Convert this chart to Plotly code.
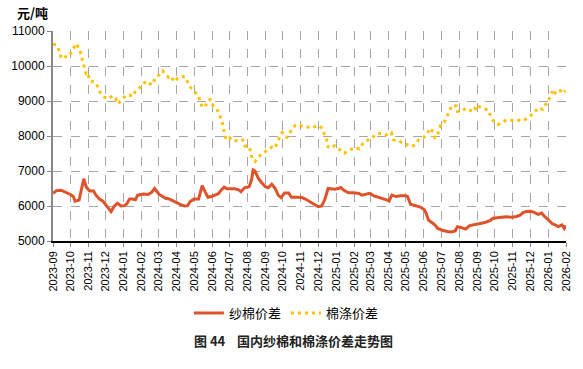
import plotly.graph_objects as go

yarn_dates = [
    "2023-09-01", "2023-09-07", "2023-09-15", "2023-09-24", "2023-10-01", "2023-10-06", "2023-10-09", "2023-10-16",
    "2023-10-20", "2023-10-24", "2023-10-28", "2023-11-03", "2023-11-10", "2023-11-14", "2023-11-20", "2023-11-26",
    "2023-12-01", "2023-12-07", "2023-12-10", "2023-12-15", "2023-12-21", "2023-12-27", "2024-01-02", "2024-01-06",
    "2024-01-11", "2024-01-16", "2024-01-21", "2024-01-25", "2024-02-04", "2024-02-12", "2024-02-18", "2024-02-23",
    "2024-02-27", "2024-03-02", "2024-03-08", "2024-03-13", "2024-03-19", "2024-03-26", "2024-04-03", "2024-04-08",
    "2024-04-15", "2024-04-20", "2024-04-24", "2024-05-01", "2024-05-09", "2024-05-15", "2024-05-20", "2024-05-25",
    "2024-05-31", "2024-06-06", "2024-06-12", "2024-06-17", "2024-06-22", "2024-06-27", "2024-07-04", "2024-07-10",
    "2024-07-17", "2024-07-21", "2024-07-27", "2024-08-04", "2024-08-08", "2024-08-11", "2024-08-14", "2024-08-20",
    "2024-08-25", "2024-09-01", "2024-09-06", "2024-09-12", "2024-09-18", "2024-09-23", "2024-09-28", "2024-10-04",
    "2024-10-11", "2024-10-16", "2024-10-25", "2024-11-03", "2024-11-09", "2024-11-17", "2024-11-25", "2024-12-01",
    "2024-12-07", "2024-12-12", "2024-12-15", "2024-12-18", "2024-12-23", "2024-12-29", "2025-01-05", "2025-01-09",
    "2025-01-13", "2025-01-22", "2025-01-31", "2025-02-09", "2025-02-14", "2025-02-20", "2025-02-28", "2025-03-07",
    "2025-03-16", "2025-03-24", "2025-03-30", "2025-04-02", "2025-04-07", "2025-04-14", "2025-04-22", "2025-05-01",
    "2025-05-04", "2025-05-09", "2025-05-18", "2025-05-26", "2025-06-02", "2025-06-05", "2025-06-09", "2025-06-14",
    "2025-06-20", "2025-06-25", "2025-07-04", "2025-07-12", "2025-07-18", "2025-07-25", "2025-07-29", "2025-08-05",
    "2025-08-12", "2025-08-19", "2025-08-25", "2025-08-31", "2025-09-06", "2025-09-14", "2025-09-23", "2025-09-28",
    "2025-10-04", "2025-10-12", "2025-10-21", "2025-10-30", "2025-11-08", "2025-11-14", "2025-11-19", "2025-11-25",
    "2025-12-02", "2025-12-08", "2025-12-15", "2025-12-21", "2025-12-26", "2026-01-02", "2026-01-08", "2026-01-13",
    "2026-01-19", "2026-01-25", "2026-01-29", "2026-02-01",
]
yarn_spread = [
    6360, 6440, 6450, 6390, 6330, 6270, 6140, 6170,
    6460, 6780, 6550, 6430, 6430, 6310, 6200, 6140,
    6030, 5890, 5840, 5980, 6080, 6000, 6010, 6060,
    6200, 6200, 6180, 6310, 6340, 6330, 6390, 6500,
    6430, 6330, 6270, 6220, 6200, 6140, 6060, 6040,
    6000, 6010, 6120, 6200, 6200, 6580, 6410, 6250,
    6270, 6310, 6350, 6460, 6540, 6490, 6500, 6490,
    6460, 6410, 6520, 6550, 6740, 7030, 7000, 6790,
    6680, 6550, 6520, 6620, 6500, 6310, 6240, 6370,
    6370, 6250, 6250, 6240, 6200, 6120, 6030, 5980,
    6000, 6170, 6330, 6500, 6490, 6480, 6500, 6530,
    6460, 6380, 6380, 6360, 6310, 6340, 6360, 6290,
    6250, 6200, 6170, 6140, 6310, 6270, 6290, 6290,
    6270, 6050, 6010, 5970, 5890, 5790, 5600, 5530,
    5460, 5360, 5300, 5270, 5260, 5290, 5410, 5380,
    5340, 5440, 5460, 5460, 5500, 5530, 5580, 5650,
    5660, 5680, 5690, 5680, 5700, 5740, 5810, 5840,
    5850, 5820, 5760, 5800, 5700, 5600, 5500, 5460,
    5410, 5460, 5360, 5440,
]

poly_dates = [
    "2023-09-01", "2023-09-07", "2023-09-12", "2023-09-15", "2023-09-21", "2023-09-26", "2023-10-01", "2023-10-06",
    "2023-10-11", "2023-10-16", "2023-10-20", "2023-10-22", "2023-10-25", "2023-10-28", "2023-11-01", "2023-11-02",
    "2023-11-09", "2023-11-13", "2023-11-17", "2023-11-21", "2023-11-28", "2023-12-05", "2023-12-12", "2023-12-18",
    "2023-12-21", "2023-12-27", "2024-01-04", "2024-01-11", "2024-01-16", "2024-01-20", "2024-01-25", "2024-02-01",
    "2024-02-09", "2024-02-18", "2024-02-22", "2024-02-27", "2024-03-02", "2024-03-08", "2024-03-13", "2024-03-19",
    "2024-03-23", "2024-03-27", "2024-04-03", "2024-04-11", "2024-04-17", "2024-04-21", "2024-04-25", "2024-05-01",
    "2024-05-08", "2024-05-11", "2024-05-15", "2024-05-20", "2024-05-24", "2024-05-29", "2024-06-03", "2024-06-09",
    "2024-06-13", "2024-06-18", "2024-06-20", "2024-06-22", "2024-06-25", "2024-07-01", "2024-07-07", "2024-07-16",
    "2024-07-24", "2024-07-27", "2024-08-04", "2024-08-07", "2024-08-09", "2024-08-14", "2024-08-20", "2024-08-25",
    "2024-09-02", "2024-09-08", "2024-09-12", "2024-09-17", "2024-09-21", "2024-09-26", "2024-09-30", "2024-10-08",
    "2024-10-12", "2024-10-16", "2024-10-23", "2024-10-30", "2024-11-07", "2024-11-14", "2024-11-21", "2024-12-01",
    "2024-12-08", "2024-12-12", "2024-12-16", "2024-12-18", "2024-12-23", "2024-12-29", "2025-01-06", "2025-01-15",
    "2025-01-23", "2025-02-04", "2025-02-10", "2025-02-14", "2025-02-20", "2025-02-28", "2025-03-05", "2025-03-13",
    "2025-03-20", "2025-03-28", "2025-04-06", "2025-04-09", "2025-04-14", "2025-04-19", "2025-04-28", "2025-05-05",
    "2025-05-12", "2025-05-18", "2025-05-23", "2025-05-31", "2025-06-07", "2025-06-11", "2025-06-17", "2025-06-20",
    "2025-06-23", "2025-06-27", "2025-06-30", "2025-07-06", "2025-07-11", "2025-07-15", "2025-07-19", "2025-07-27",
    "2025-07-29", "2025-08-06", "2025-08-12", "2025-08-19", "2025-08-25", "2025-08-28", "2025-09-02", "2025-09-04",
    "2025-09-12", "2025-09-20", "2025-09-23", "2025-09-28", "2025-10-07", "2025-10-14", "2025-10-21", "2025-10-30",
    "2025-11-08", "2025-11-16", "2025-11-24", "2025-12-01", "2025-12-09", "2025-12-16", "2025-12-23", "2025-12-26",
    "2026-01-01", "2026-01-05", "2026-01-08", "2026-01-11", "2026-01-16", "2026-01-22", "2026-01-26", "2026-01-31",
]
poly_spread = [
    10620, 10600, 10430, 10240, 10220, 10350, 10350, 10500,
    10640, 10500, 10310, 10140, 9950, 9780, 9800, 9600,
    9550, 9520, 9410, 9250, 9120, 9060, 9140, 9080,
    8920, 9000, 9150, 9170, 9130, 9250, 9310, 9460,
    9570, 9460, 9580, 9710, 9740, 9860, 9740, 9670,
    9700, 9550, 9650, 9700, 9670, 9490, 9390, 9270,
    9170, 9010, 8830, 8830, 9000, 9040, 8860, 8790,
    8620, 8440, 8260, 8080, 7900, 7950, 7860, 7870,
    7890, 7720, 7700, 7530, 7360, 7270, 7380, 7480,
    7570, 7650, 7680, 7650, 7820, 7980, 8100, 7960,
    8030, 8200, 8310, 8310, 8260, 8250, 8240, 8300,
    8220, 8030, 7860, 7690, 7650, 7720, 7610, 7510,
    7590, 7670, 7630, 7740, 7860, 7900, 7970, 8070,
    8070, 8030, 8100, 7900, 7860, 7860, 7780, 7740,
    7700, 7770, 7890, 7950, 8050, 8220, 8120, 7950,
    7970, 8150, 8310, 8390, 8550, 8700, 8870, 8860,
    8700, 8710, 8790, 8740, 8700, 8790, 8740, 8840,
    8790, 8740, 8620, 8450, 8330, 8380, 8450, 8450,
    8460, 8440, 8480, 8560, 8680, 8810, 8760, 8870,
    8960, 9120, 9270, 9170, 9310, 9300, 9220, 9300,
]

month_ticks = [
    "2023-09", "2023-10", "2023-11", "2023-12", "2024-01", "2024-02", "2024-03", "2024-04", "2024-05", "2024-06",
    "2024-07", "2024-08", "2024-09", "2024-10", "2024-11", "2024-12", "2025-01", "2025-02", "2025-03", "2025-04",
    "2025-05", "2025-06", "2025-07", "2025-08", "2025-09", "2025-10", "2025-11", "2025-12", "2026-01", "2026-02",
]
y_ticks = [5000, 6000, 7000, 8000, 9000, 10000, 11000]

series_names = ["纱棉价差", "棉涤价差"]
y_unit = "元/吨"
caption = "图 44    国内纱棉和棉涤价差走势图"

RED = "#E0522A"
YELLOW = "#FFC000"
CJK = "Noto Sans CJK SC"
LAT = "Liberation Sans, Arial"

fig = go.Figure()
fig.add_trace(go.Scatter(
    x=yarn_dates, y=yarn_spread, mode="lines", name=series_names[0],
    line=dict(color=RED, width=3),
))
fig.add_trace(go.Scatter(
    x=poly_dates, y=poly_spread, mode="lines", name=series_names[1],
    line=dict(color=YELLOW, width=3, dash="3px,4px"),
))

tickvals = [m + "-01" for m in month_ticks]

fig.update_layout(
    width=583, height=369,
    margin=dict(l=53, r=17, t=31, b=128),
    paper_bgcolor="white", plot_bgcolor="white",
    showlegend=True,
    legend=dict(
        orientation="h", x=0.455, xanchor="center", y=-0.343, yanchor="middle",
        font=dict(family=CJK, size=13, color="#000"),
        itemwidth=30, bgcolor="rgba(0,0,0,0)",
    ),
    xaxis=dict(
        type="date", automargin=False,
        range=[tickvals[0], tickvals[-1]],
        tickvals=tickvals, ticktext=month_ticks,
        tickangle=-90,
        tickfont=dict(family=LAT, size=11, color="#000"),
        showgrid=True, gridcolor="#A6A6A6", griddash="dash", gridwidth=1,
        showline=True, linecolor="#000", linewidth=1.5,
        ticks="outside", ticklen=4, tickcolor="#888", tickwidth=1,
        zeroline=False,
    ),
    yaxis=dict(
        range=[5000, 11000], automargin=False,
        tickvals=y_ticks, ticktext=[str(v) for v in y_ticks],
        tickfont=dict(family=LAT, size=12, color="#000"),
        showgrid=True, gridcolor="#A6A6A6", griddash="dash", gridwidth=1,
        showline=True, linecolor="#888", linewidth=2,
        ticks="outside", ticklen=4, tickcolor="#888", tickwidth=1,
        zeroline=False,
    ),
    annotations=[
        dict(text=y_unit, xref="paper", yref="paper", x=-0.075, y=1.09,
             xanchor="left", yanchor="middle", showarrow=False,
             font=dict(family=CJK, size=13, color="#000", weight="bold")),
        dict(text=caption, xref="paper", yref="paper", x=0.468, y=-0.476,
             xanchor="center", yanchor="middle", showarrow=False,
             font=dict(family=CJK, size=13, color="#222", weight="bold")),
    ],
)

fig.write_html(
    "out.html",
    config={"displayModeBar": False},
    post_script="document.body.style.margin='0';document.body.style.padding='0';",
)
